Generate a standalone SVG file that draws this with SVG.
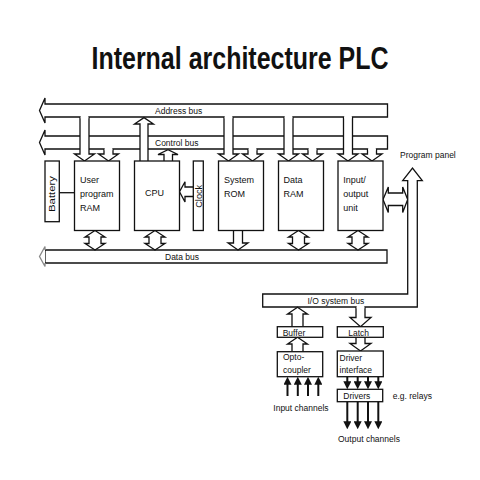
<svg xmlns="http://www.w3.org/2000/svg" width="480" height="480" viewBox="0 0 480 480">
<defs>
<style>
.t{font-family:"Liberation Sans",Arial,sans-serif;font-size:8.5px;fill:#111}
.m{font-family:"Liberation Sans",Arial,sans-serif;font-size:9px;fill:#111}
.s{fill:#fff;stroke:#111;stroke-width:1.3;stroke-linejoin:miter}
.e{fill:#fff;stroke:none}
.b{fill:#fff;stroke:#111;stroke-width:1.3}
.a{stroke:#111;stroke-width:2;fill:none;marker-end:url(#ah)}
</style>
<marker id="ah" viewBox="0 0 8 8" refX="4" refY="4" markerWidth="8" markerHeight="8" markerUnits="userSpaceOnUse" orient="auto"><path d="M0,0 L8,4 L0,8 Z" fill="#111"/></marker>
</defs>
<rect width="480" height="480" fill="#fff"/>
<text x="240" y="68.5" text-anchor="middle" font-family="'Liberation Sans',Arial,sans-serif" font-weight="bold" font-size="31" textLength="297" lengthAdjust="spacingAndGlyphs" fill="#111">Internal architecture PLC</text>

<g id="connectors">
<!-- buses -->
<path class="s" d="M387.5,104 H45 V98 L39.5,110.5 L45,123 V117 H387.5 Z"/>
<path class="s" d="M387.5,136 H45 V130 L39.5,142.5 L45,155 V149 H387.5 Z"/>
<path class="s" d="M387,250 H45 V263 H387 Z"/>
<path d="M45,250 V246.5 L39.5,256.5 L45,266.5 V263" fill="#fff" stroke="#888" stroke-width="1.3"/>
<!-- address stems -->
<g>
<path class="s" d="M80,117 V154 H74.5 L84.5,161 L94.5,154 H89 V117"/><rect class="e" x="80.7" y="116" width="7.6" height="2.5"/>
<path class="s" d="M224,117 V154 H218.5 L228.5,161 L238.5,154 H233 V117"/><rect class="e" x="224.7" y="116" width="7.6" height="2.5"/>
<path class="s" d="M284,117 V154 H278.5 L288.5,161 L298.5,154 H293 V117"/><rect class="e" x="284.7" y="116" width="7.6" height="2.5"/>
<path class="s" d="M343.5,117 V154 H338 L348,161 L358,154 H352.5 V117"/><rect class="e" x="344.2" y="116" width="7.6" height="2.5"/>
</g>
<!-- control stems -->
<g>
<path class="s" d="M104,149 V154 H98.5 L108.5,161 L118.5,154 H113 V149"/><rect class="e" x="104.7" y="148" width="7.6" height="2.5"/>
<path class="s" d="M248,149 V154 H242.5 L252.5,161 L262.5,154 H257 V149"/><rect class="e" x="248.7" y="148" width="7.6" height="2.5"/>
<path class="s" d="M308,149 V154 H302.5 L312.5,161 L322.5,154 H317 V149"/><rect class="e" x="308.7" y="148" width="7.6" height="2.5"/>
<path class="s" d="M367.5,149 V154 H362 L372,161 L382,154 H376.5 V149"/><rect class="e" x="368.2" y="148" width="7.6" height="2.5"/>
</g>
<!-- CPU up arrows -->
<path class="s" d="M140,161 V124 H134.5 L144,117.6 L153.5,124 H148 V161"/>
<path class="s" d="M164,161 V154.5 H158 L168,149.6 L178,154.5 H172.5 V161"/>
<!-- clock to CPU -->
<path class="s" d="M193.3,187 H185 V181.7 L179.5,191.8 L185,202 V196.5 H193.3"/>
<!-- battery link -->
<path d="M59.3,192.7 H74.5" stroke="#111" stroke-width="1.3"/>
<!-- data bus links -->
<path class="s" d="M95,230.5 L105,237 H101 V243.5 H105 L95,250 L85,243.5 H89 V237 H85 Z"/>
<path class="s" d="M155,230.5 L165,237 H161 V243.5 H165 L155,250 L145,243.5 H149 V237 H145 Z"/>
<path class="s" d="M233.5,230.5 V243 H228 L238,250 L248,243 H242.5 V230.5"/>
<path class="s" d="M298.5,230.5 L308.5,237 H304.5 V243.5 H308.5 L298.5,250 L288.5,243.5 H292.5 V237 H288.5 Z"/>
<path class="s" d="M358,230.5 L368,237 H364 V243.5 H368 L358,250 L348,243.5 H352 V237 H348 Z"/>
<!-- I/O unit to program panel -->
<path class="s" d="M383,199.5 L388.3,187 V193 H402.7 V187 L407.7,199.5 L402.7,212.5 V205.5 H388.3 V212.5 Z"/>
<!-- I/O system bus with program panel arrow -->
<path class="s" d="M262.7,294 H407.7 V180.7 H402.7 L412.5,168 L422.3,180.7 H417.3 V307 H262.7 Z"/>
<!-- latch / buffer links -->
<path class="s" d="M356,307 V317.5 H350 L360.5,326.7 L371,317.5 H365 V307"/><rect class="e" x="356.7" y="306" width="7.6" height="2.5"/>
<path class="s" d="M292,326.7 V314 H287.5 L297.5,307.3 L307.5,314 H303 V326.7"/>
<path class="s" d="M292,351.7 V344 H287.5 L297.5,337.3 L307.5,344 H303 V351.7"/>
<path class="s" d="M356,337.3 V343.5 H350 L360.5,351 L371,343.5 H365 V337.3"/>
<!-- solid arrows -->
<path class="a" d="M287.5,396 V380.7"/><path class="a" d="M297.8,396 V380.7"/><path class="a" d="M308,396 V380.7"/><path class="a" d="M318.3,396 V380.7"/>
<path class="a" d="M347.3,376.7 V385.3"/><path class="a" d="M357.7,376.7 V385.3"/><path class="a" d="M368,376.7 V385.3"/><path class="a" d="M378.3,376.7 V385.3"/>
<path class="a" d="M347.3,401.7 V425.3"/><path class="a" d="M357.7,401.7 V425.3"/><path class="a" d="M368,401.7 V425.3"/><path class="a" d="M378.3,401.7 V425.3"/>
</g>

<text class="t" x="155" y="113.5">Address bus</text>
<text class="t" x="155" y="145.5">Control bus</text>
<text class="t" x="165" y="259.5">Data bus</text>
<text class="t" x="400" y="157.5">Program panel</text>
<text class="t" x="307.5" y="303.5">I/O system bus</text>

<g id="battery"><rect class="b" x="45" y="161" width="14.3" height="60.7"/><text class="m" transform="translate(55.3,194) rotate(-90)" text-anchor="middle" textLength="36" lengthAdjust="spacingAndGlyphs">Battery</text></g>
<g id="ram"><rect class="b" x="74.5" y="161" width="45" height="69.5"/><text class="m" x="80" y="182.5">User</text><text class="m" x="80" y="196.5">program</text><text class="m" x="80" y="210.5">RAM</text></g>
<g id="cpu"><rect class="b" x="134.5" y="161" width="45" height="69.5"/><text class="m" x="145" y="196">CPU</text></g>
<g id="clock"><rect class="b" x="193.3" y="161" width="10" height="69.5"/><text class="m" transform="translate(201.5,196.3) rotate(-90)" text-anchor="middle" textLength="23" lengthAdjust="spacingAndGlyphs">Clock</text></g>
<g id="rom"><rect class="b" x="218.5" y="161" width="45" height="69.5"/><text class="m" x="224" y="182.5">System</text><text class="m" x="224" y="196.5">ROM</text></g>
<g id="dataram"><rect class="b" x="278.5" y="161" width="45" height="69.5"/><text class="m" x="283.5" y="182.5">Data</text><text class="m" x="283.5" y="196.5">RAM</text></g>
<g id="io"><rect class="b" x="338" y="161" width="45" height="69.5"/><text class="m" x="343.3" y="182.5">Input/</text><text class="m" x="343.3" y="196.5">output</text><text class="m" x="343.3" y="210.5">unit</text></g>
<g id="buffer"><rect class="b" x="277.3" y="326.7" width="45.4" height="10.6"/><text class="t" x="282.7" y="335.5">Buffer</text></g>
<g id="latch"><rect class="b" x="337.3" y="326.7" width="46" height="10.6"/><text class="t" x="348.3" y="335.5">Latch</text></g>
<g id="opto"><rect class="b" x="277.3" y="351.7" width="45.4" height="25"/><text class="t" x="283" y="359.5">Opto-</text><text class="t" x="283" y="372.5">coupler</text></g>
<g id="driverif"><rect class="b" x="337.3" y="351" width="46" height="25.7"/><text class="t" x="339.5" y="360.5">Driver</text><text class="t" x="339.5" y="372.5">interface</text></g>
<g id="drivers"><rect class="b" x="337.3" y="389.3" width="45.4" height="12.4"/><text class="t" x="343.3" y="398.5">Drivers</text></g>
<text class="t" x="392.7" y="398.5">e.g. relays</text>
<text class="t" x="273.3" y="411">Input channels</text>
<text class="t" x="338" y="442">Output channels</text>
</svg>
